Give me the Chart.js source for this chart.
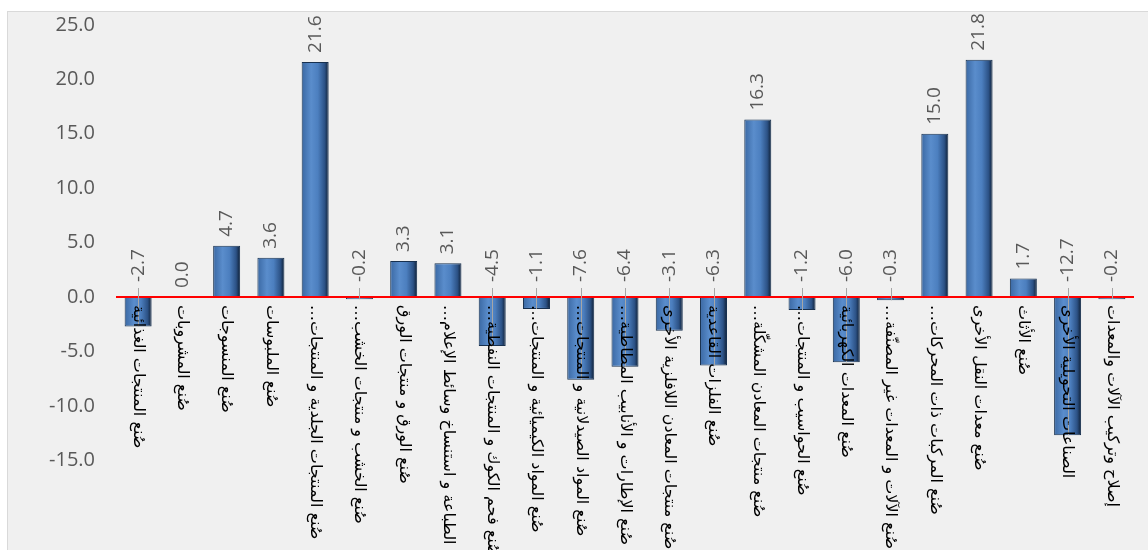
<!DOCTYPE html>
<html lang="ar">
<head>
<meta charset="utf-8">
<script src="https://cdn.jsdelivr.net/npm/chart.js@4.4.1/dist/chart.umd.min.js"></script>
<style>
  html, body { margin: 0; padding: 0; background: #ffffff; overflow: hidden; }
  .frame {
    position: absolute; left: 7px; top: 11px;
    width: 1160px; height: 560px;
    border: 1px solid #d9d9d9; background: #f0f0f0;
  }
  .box { position: absolute; left: 0; top: 0; width: 1140px; height: 538px; }
</style>
</head>
<body>
<div class="frame"><div class="box"><canvas id="growthChart"></canvas></div></div>
<script>
// categories as shown on the axis (long ones are cut like in the original)
const categories = [
  'صُنع المنتجات الغذائية',
  'صُنع المشروبات',
  'صُنع المنسوجات',
  'صُنع الملبوسات',
  'صُنع المنتجات الجلدية و المنتجات…',
  'صُنع الخشب و منتجات الخشب…',
  'صُنع الورق و منتجات الورق',
  'الطباعة و استنساخ وسائط الإعلام…',
  'صُنع فحم الكوك و المنتجات النفطية…',
  'صُنع المواد الكيميائية و المنتجات…',
  'صُنع المواد الصيدلانية و المنتجات…',
  'صُنع الإطارات و الأنابيب المطاطية…',
  'صُنع منتجات المعادن اللافلزية الأخرى',
  'صُنع الفلزات القاعدية',
  'صُنع منتجات المعادن المشكّلة…',
  'صُنع الحواسيب و المنتجات…',
  'صُنع المعدات الكهربائية',
  'صُنع الآلات و المعدات غير المصنّفة…',
  'صُنع المركبات ذات المحركات…',
  'صُنع معدات النقل الأخرى',
  'صُنع الأثاث',
  'الصناعات التحويلية الأخرى',
  'إصلاح وتركيب الآلات والمعدات'
];
const growth = [-2.7, 0.0, 4.7, 3.6, 21.6, -0.2, 3.3, 3.1, -4.5, -1.1, -7.6, -6.4,
                -3.1, -6.3, 16.3, -1.2, -6.0, -0.3, 15.0, 21.8, 1.7, -12.7, -0.2];
const yTicks = [25, 20, 15, 10, 5, 0, -5, -10, -15];

const barPct = 0.61;

// horizontal gradient so every bar looks rounded like the excel bevel
function barFill(context) {
  const chart = context.chart;
  const xs = chart.scales.x;
  if (!chart.chartArea || !xs) return '#4f81bd';
  const cx = xs.getPixelForValue(context.dataIndex);
  const w = xs.width / categories.length * barPct;
  const g = chart.ctx.createLinearGradient(cx - w / 2, 0, cx + w / 2, 0);
  g.addColorStop(0, '#3a68a3');
  g.addColorStop(0.35, '#5a8dcc');
  g.addColorStop(0.6, '#4c7fbf');
  g.addColorStop(0.85, '#2c5286');
  g.addColorStop(1, '#0e1e33');
  return g;
}

const labelPlugin = {
  id: 'barLabels',
  afterDatasetsDraw(chart) {
    const ctx = chart.ctx;
    const meta = chart.getDatasetMeta(0);
    const y0 = chart.scales.y.getPixelForValue(0);
    meta.data.forEach(function(bar, i) {
      const v = growth[i];
      const x = bar.x;
      let base = v > 0 ? bar.y - 9 : y0 - 15;
      if (v === 0) base = y0 - 9;
      ctx.save();
      if (v < 0) {
        ctx.strokeStyle = '#a6a6a6';
        ctx.lineWidth = 1;
        ctx.beginPath();
        ctx.moveTo(Math.round(x) + 0.5, y0 - 9);
        ctx.lineTo(Math.round(x) + 0.5, bar.y);
        ctx.stroke();
      }
      ctx.translate(x, base);
      ctx.rotate(-Math.PI / 2);
      ctx.direction = 'ltr';
      ctx.fillStyle = '#595959';
      ctx.font = "19px 'Open Sans'";
      ctx.textAlign = 'left';
      ctx.textBaseline = 'middle';
      ctx.fillText(v.toFixed(1), 0, 0);
      ctx.restore();

      // category text, rotated, starting just under the zero line
      ctx.save();
      ctx.translate(x, y0 + 8);
      ctx.rotate(Math.PI / 2);
      ctx.direction = 'rtl';
      ctx.fillStyle = '#000000';
      ctx.font = "16px 'DejaVu Sans'";
      ctx.textAlign = 'left';
      ctx.textBaseline = 'middle';
      ctx.fillText(categories[i], 0, 0);
      ctx.restore();
    });
  }
};

new Chart(document.getElementById('growthChart').getContext('2d'), {
  type: 'bar',
  data: {
    labels: categories,
    datasets: [{
      data: growth,
      backgroundColor: barFill,
      borderColor: '#17304f',
      borderWidth: 1,
      barPercentage: barPct,
      categoryPercentage: 1
    }]
  },
  options: {
    responsive: true,
    maintainAspectRatio: false,
    animation: false,
    layout: { padding: { left: 0, right: 14, top: 0, bottom: 0 } },
    plugins: { legend: { display: false }, tooltip: { enabled: false } },
    scales: {
      x: { display: false },
      y: {
        min: -23.25,
        max: 26.19,
        afterBuildTicks: function(scale) {
          scale.ticks = yTicks.map(function(v) { return { value: v }; });
        },
        afterFit: function(scale) {
          scale.width = 108;
          scale.paddingTop = 0;
          scale.paddingBottom = 0;
        },
        border: { display: false },
        grid: {
          drawTicks: false,
          color: function(c) { return c.tick && c.tick.value === 0 ? '#ff0000' : 'rgba(0,0,0,0)'; },
          lineWidth: function(c) { return c.tick && c.tick.value === 0 ? 2 : 0; }
        },
        ticks: {
          padding: 21,
          color: '#595959',
          font: { family: 'Open Sans', size: 20 },
          callback: function(v) { return Number(v).toFixed(1); }
        }
      }
    }
  },
  plugins: [labelPlugin]
});
</script>
</body>
</html>
